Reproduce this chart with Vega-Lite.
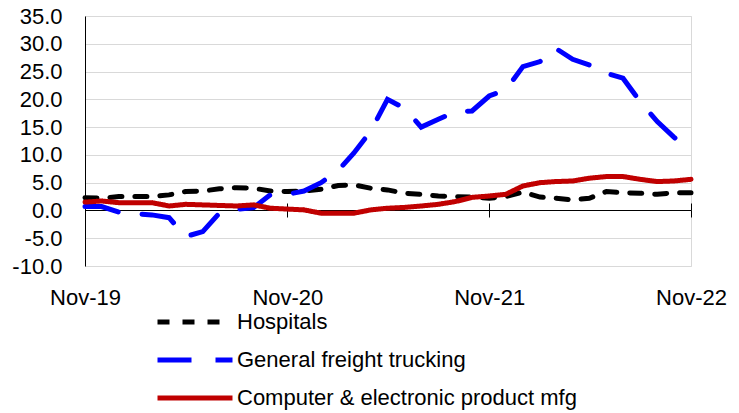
{
  "$schema": "https://vega.github.io/schema/vega-lite/v6.json",
  "width": 606,
  "height": 250,
  "autosize": {"type": "none"},
  "padding": {"left": 85, "top": 16, "right": 48, "bottom": 147},
  "background": "white",
  "config": {"view": {"stroke": "#D9D9D9", "strokeWidth": 1}, "font": "Liberation Sans"},
  "data": {"values": [
    {"date": "2019-11-01T00:00", "Hospitals": 2.3, "General freight trucking": 0.7, "Computer & electronic product mfg": 1.5},
    {"date": "2019-12-01T00:00", "Hospitals": 2.2, "General freight trucking": 0.7, "Computer & electronic product mfg": 1.7},
    {"date": "2020-01-01T00:00", "Hospitals": 2.5, "General freight trucking": -0.3, "Computer & electronic product mfg": 1.4},
    {"date": "2020-02-01T00:00", "Hospitals": 2.5, "General freight trucking": -0.6, "Computer & electronic product mfg": 1.4},
    {"date": "2020-03-01T00:00", "Hospitals": 2.5, "General freight trucking": -0.8, "Computer & electronic product mfg": 1.4},
    {"date": "2020-04-01T00:00", "Hospitals": 2.8, "General freight trucking": -1.3, "Computer & electronic product mfg": 0.8},
    {"date": "2020-05-01T00:00", "Hospitals": 3.4, "General freight trucking": -4.7, "Computer & electronic product mfg": 1.1},
    {"date": "2020-06-01T00:00", "Hospitals": 3.5, "General freight trucking": -3.8, "Computer & electronic product mfg": 1.0},
    {"date": "2020-07-01T00:00", "Hospitals": 3.9, "General freight trucking": -0.5, "Computer & electronic product mfg": 0.9},
    {"date": "2020-08-01T00:00", "Hospitals": 4.1, "General freight trucking": 0.2, "Computer & electronic product mfg": 0.8},
    {"date": "2020-09-01T00:00", "Hospitals": 4.0, "General freight trucking": 0.5, "Computer & electronic product mfg": 1.0},
    {"date": "2020-10-01T00:00", "Hospitals": 3.5, "General freight trucking": 2.8, "Computer & electronic product mfg": 0.4},
    {"date": "2020-11-01T00:00", "Hospitals": 3.4, "General freight trucking": 2.9, "Computer & electronic product mfg": 0.25},
    {"date": "2020-12-01T00:00", "Hospitals": 3.5, "General freight trucking": 3.5, "Computer & electronic product mfg": 0.1},
    {"date": "2021-01-01T00:00", "Hospitals": 3.8, "General freight trucking": 5.0, "Computer & electronic product mfg": -0.5},
    {"date": "2021-02-01T00:00", "Hospitals": 4.5, "General freight trucking": 7.2, "Computer & electronic product mfg": -0.5},
    {"date": "2021-03-01T00:00", "Hospitals": 4.6, "General freight trucking": 10.3, "Computer & electronic product mfg": -0.5},
    {"date": "2021-04-01T00:00", "Hospitals": 4.0, "General freight trucking": 14.3, "Computer & electronic product mfg": 0.1},
    {"date": "2021-05-01T00:00", "Hospitals": 3.7, "General freight trucking": 20.0, "Computer & electronic product mfg": 0.4},
    {"date": "2021-06-01T00:00", "Hospitals": 3.1, "General freight trucking": 18.4, "Computer & electronic product mfg": 0.55},
    {"date": "2021-07-01T00:00", "Hospitals": 2.9, "General freight trucking": 15.0, "Computer & electronic product mfg": 0.8},
    {"date": "2021-08-01T00:00", "Hospitals": 2.6, "General freight trucking": 16.4, "Computer & electronic product mfg": 1.1},
    {"date": "2021-09-01T00:00", "Hospitals": 2.5, "General freight trucking": 17.8, "Computer & electronic product mfg": 1.6},
    {"date": "2021-10-01T00:00", "Hospitals": 2.4, "General freight trucking": 17.9, "Computer & electronic product mfg": 2.35},
    {"date": "2021-11-01T00:00", "Hospitals": 2.2, "General freight trucking": 20.6, "Computer & electronic product mfg": 2.6},
    {"date": "2021-12-01T00:00", "Hospitals": 2.5, "General freight trucking": 21.7, "Computer & electronic product mfg": 2.9},
    {"date": "2022-01-01T00:00", "Hospitals": 3.3, "General freight trucking": 25.9, "Computer & electronic product mfg": 4.4},
    {"date": "2022-02-01T00:00", "Hospitals": 2.4, "General freight trucking": 26.8, "Computer & electronic product mfg": 5.0},
    {"date": "2022-03-01T00:00", "Hospitals": 2.2, "General freight trucking": 29.2, "Computer & electronic product mfg": 5.2},
    {"date": "2022-04-01T00:00", "Hospitals": 1.9, "General freight trucking": 27.2, "Computer & electronic product mfg": 5.3},
    {"date": "2022-05-01T00:00", "Hospitals": 2.2, "General freight trucking": 26.2, "Computer & electronic product mfg": 5.8},
    {"date": "2022-06-01T00:00", "Hospitals": 3.4, "General freight trucking": 24.7, "Computer & electronic product mfg": 6.1},
    {"date": "2022-07-01T00:00", "Hospitals": 3.2, "General freight trucking": 23.8, "Computer & electronic product mfg": 6.1},
    {"date": "2022-08-01T00:00", "Hospitals": 3.1, "General freight trucking": 19.6, "Computer & electronic product mfg": 5.6},
    {"date": "2022-09-01T00:00", "Hospitals": 2.9, "General freight trucking": 16.0, "Computer & electronic product mfg": 5.2},
    {"date": "2022-10-01T00:00", "Hospitals": 3.2, "General freight trucking": 13.2, "Computer & electronic product mfg": 5.3},
    {"date": "2022-11-01T00:00", "Hospitals": 3.2, "General freight trucking": 10.7, "Computer & electronic product mfg": 5.6}
  ]},
  "transform": [{"fold": ["Hospitals", "General freight trucking", "Computer & electronic product mfg"], "as": ["series", "value"]}],
  "encoding": {
    "y": {"field": "value", "type": "quantitative",
      "scale": {"domain": [-10, 35], "nice": false, "zero": false},
      "axis": {"title": null, "values": [-10, -5, 0, 5, 10, 15, 20, 25, 30, 35],
        "labelExpr": "replace(format(datum.value, '.1f'), '\u2212', '-')",
        "labelOverlap": false, "labelFlush": false,
        "domain": true, "domainColor": "black", "domainWidth": 1, "ticks": false,
        "labelPadding": 23, "grid": true, "gridColor": "#D9D9D9", "gridWidth": 1,
        "labelFontSize": 22, "labelColor": "black", "labelFont": "Liberation Sans"}},
    "color": {"field": "series", "type": "nominal",
      "scale": {"domain": ["Hospitals", "General freight trucking", "Computer & electronic product mfg"], "range": ["#000000", "#0000FF", "#C00000"]},
      "legend": {"title": null, "orient": "none", "legendX": 99, "legendY": 295, "direction": "vertical",
        "symbolType": "M-5,0H5", "symbolSize": 225, "symbolStrokeWidth": 5,
        "labelFontSize": 22, "labelFont": "Liberation Sans", "labelColor": "black", "labelLimit": 600,
        "labelOffset": 31, "rowPadding": 16, "padding": 0}},
    "strokeDash": {"field": "series", "type": "nominal",
      "scale": {"domain": ["Hospitals", "General freight trucking", "Computer & electronic product mfg"], "range": [[12, 13], [34, 24], [1, 0]]},
      "legend": {"title": null, "orient": "none", "legendX": 99, "legendY": 295, "direction": "vertical",
        "symbolType": "M-5,0H5", "symbolSize": 225, "symbolStrokeWidth": 5,
        "labelFontSize": 22, "labelFont": "Liberation Sans", "labelColor": "black", "labelLimit": 600,
        "labelOffset": 31, "rowPadding": 16, "padding": 0}}
  },
  "layer": [
    {
      "transform": [{"filter": "datum.series === 'Hospitals'"}],
      "mark": {"type": "line", "strokeWidth": 5, "strokeCap": "round"},
      "encoding": {
        "x": {"field": "date", "type": "temporal",
          "scale": {"domain": [{"year": 2019, "month": 11, "date": 1}, {"year": 2022, "month": 11, "date": 1}], "nice": false},
          "axis": {"orient": "bottom", "offset": -56, "title": null, "grid": false,
            "values": [{"year": 2019, "month": 11, "date": 1}, {"year": 2020, "month": 11, "date": 1}, {"year": 2021, "month": 11, "date": 1}, {"year": 2022, "month": 11, "date": 1}],
            "format": "%b-%y", "domain": true, "domainColor": "black", "domainWidth": 1,
            "ticks": true, "tickSize": 7, "tickColor": "black", "tickWidth": 1,
            "labelPadding": 70, "labelFontSize": 22, "labelColor": "black", "labelFont": "Liberation Sans",
            "labelFlush": false, "labelOverlap": false, "labelBaseline": "top"}}
      }
    },
    {
      "transform": [{"filter": "datum.series !== 'Hospitals'"}],
      "mark": {"type": "line", "strokeWidth": 5, "strokeCap": "round"},
      "encoding": {
        "x": {"field": "date", "type": "temporal",
          "axis": {"orient": "top", "offset": -194, "title": null, "grid": false,
            "values": [{"year": 2019, "month": 11, "date": 1}, {"year": 2020, "month": 11, "date": 1}, {"year": 2021, "month": 11, "date": 1}, {"year": 2022, "month": 11, "date": 1}],
            "domain": false, "labels": false, "ticks": true, "tickSize": 7, "tickColor": "black", "tickWidth": 1}}
      }
    }
  ],
  "resolve": {"axis": {"x": "independent"}}
}
